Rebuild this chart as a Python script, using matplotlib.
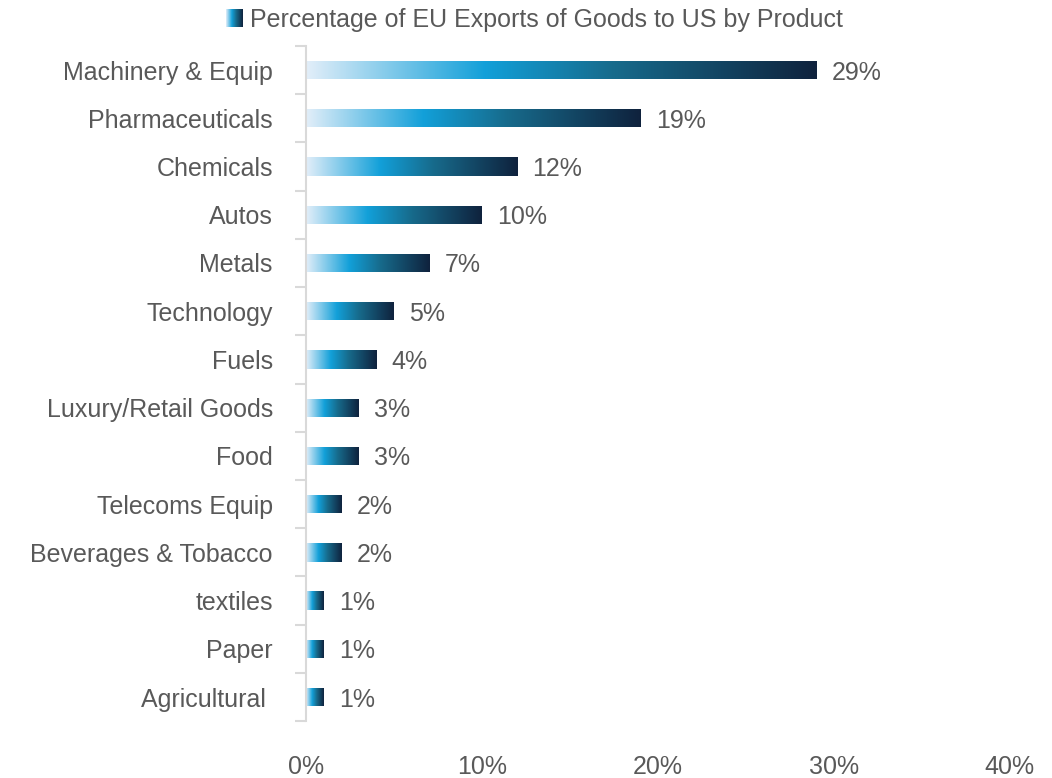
import numpy as np
import matplotlib
matplotlib.use("Agg")
import matplotlib.pyplot as plt
from matplotlib.colors import LinearSegmentedColormap
from matplotlib.ticker import FixedLocator, PercentFormatter

# Share of EU goods exports to the US, by product group
products = ["Machinery & Equip", "Pharmaceuticals", "Chemicals", "Autos", "Metals",
            "Technology", "Fuels", "Luxury/Retail Goods", "Food", "Telecoms Equip",
            "Beverages & Tobacco", "textiles", "Paper", "Agricultural "]
shares = [29, 19, 12, 10, 7, 5, 4, 3, 3, 2, 2, 1, 1, 1]
x_ticks = [0, 10, 20, 30, 40]
title = "Percentage of EU Exports of Goods to US by Product"

TEXT = "#595959"
GRID = "#d9d9d9"
FS = 18
plt.rcParams["font.family"] = ["Liberation Sans", "DejaVu Sans"]

# light -> bright blue -> navy, stretched along each bar
grad = LinearSegmentedColormap.from_list(
    "bar_grad", [(0.0, "#e2eef9"), (0.35, "#12a0d9"), (0.6, "#176b8c"), (1.0, "#0f223d")])
ramp = np.linspace(0, 1, 256).reshape(1, -1)

fig = plt.figure(figsize=(10.52, 7.78), dpi=100)
ax = fig.add_axes([0.291, 0.073, 0.669, 0.868])

ypos = np.arange(len(products))
bars = ax.barh(ypos, shares, height=0.38, color="none", edgecolor="none")
for rect, val in zip(bars, shares):
    x0, y0 = rect.get_x(), rect.get_y()
    w, h = rect.get_width(), rect.get_height()
    im = ax.imshow(ramp, cmap=grad, aspect="auto", interpolation="bilinear",
                   extent=(x0, x0 + w, y0 + h, y0), zorder=2)
    im.set_clip_path(rect)
    ax.annotate(f"{val}%", (x0 + w, y0 + h / 2), xytext=(11, 0), textcoords="offset points",
                ha="left", va="center_baseline", fontsize=FS, color=TEXT)

ax.set_xlim(0, 40)
ax.set_ylim(len(products) - 0.5, -0.5)
ax.set_yticks(ypos)
ax.set_yticklabels(products)
ax.yaxis.set_minor_locator(FixedLocator(np.arange(-0.5, len(products), 1)))
ax.tick_params(axis="y", which="major", length=0, pad=24, labelsize=FS, labelcolor=TEXT)
ax.tick_params(axis="y", which="minor", length=8, width=1.5, color=GRID)
ax.xaxis.set_major_locator(FixedLocator(x_ticks))
ax.xaxis.set_major_formatter(PercentFormatter(decimals=0))
ax.tick_params(axis="x", length=0, pad=24, labelsize=FS, labelcolor=TEXT)

for side in ["top", "right", "bottom"]:
    ax.spines[side].set_visible(False)
ax.spines["left"].set_color(GRID)
ax.spines["left"].set_linewidth(1.5)

# legend swatch and series name
sw = fig.add_axes([226 / 1052, 1 - 27 / 778, 17 / 1052, 18 / 778])
sw.imshow(ramp, cmap=grad, aspect="auto", interpolation="bilinear")
sw.axis("off")
fig.text(250 / 1052, 1 - 18 / 778, title, ha="left", va="center_baseline", fontsize=FS, color=TEXT)

fig.savefig("out.png", dpi=100)
